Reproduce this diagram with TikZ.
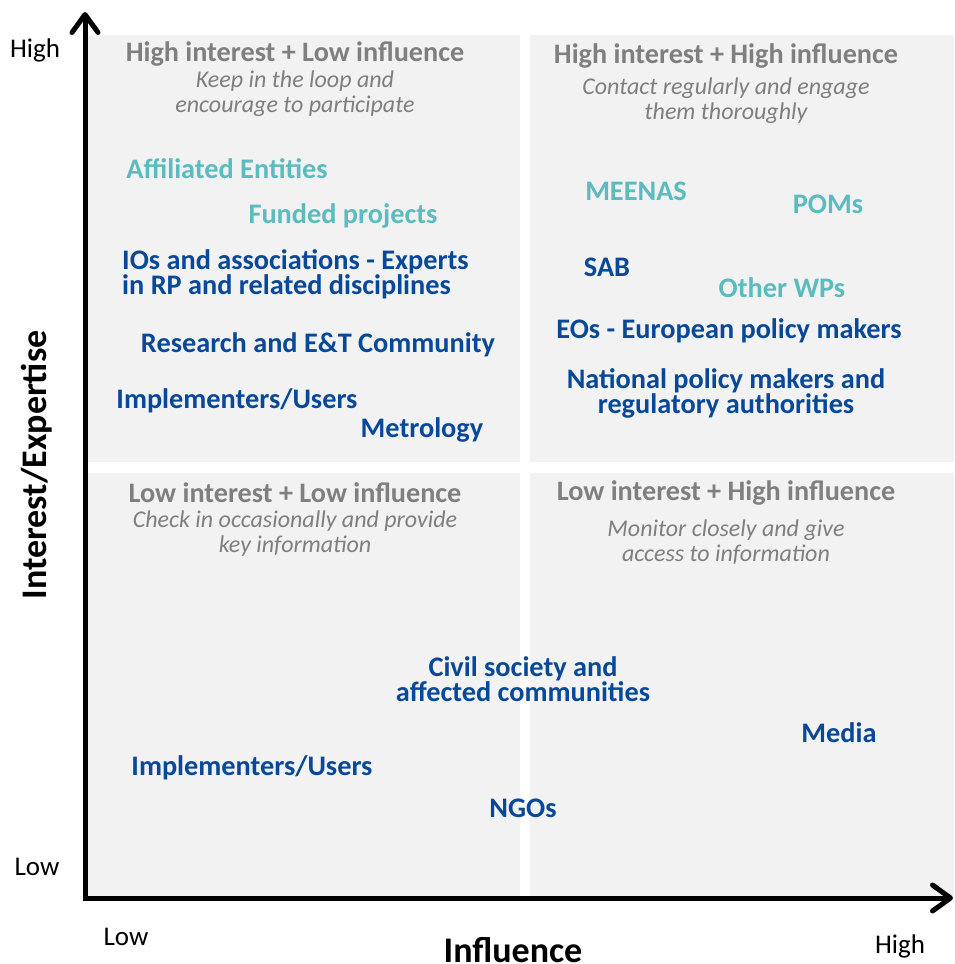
\documentclass[tikz,border=0pt]{standalone}
\usepackage{fontspec}
\setmainfont{Carlito}
\usetikzlibrary{arrows.meta}

\definecolor{quadfill}{RGB}{242,242,242}
\definecolor{headgray}{RGB}{127,127,127}
\definecolor{lightteal}{RGB}{91,188,192}
\definecolor{darkblue}{RGB}{8,72,152}

% fixed line pitch for two-line labels
\newcommand\tightlines{\lineskiplimit=-10pt\relax}

\tikzset{
  quad/.style={fill=quadfill},
  quadtitle/.style={text=headgray, inner sep=0pt, yshift=-1.5pt,
    font=\bfseries\fontsize{28.2}{25}\selectfont},
  quadnote/.style={text=headgray, inner sep=0pt, align=center, yshift=-1pt,
    font=\itshape\fontsize{24}{25}\selectfont\tightlines},
  actor/.style={inner sep=0pt, align=center, yshift=-1.5pt,
    font=\bfseries\fontsize{28.3}{25}\selectfont\tightlines},
  inner/.style={actor, text=darkblue},
  outer/.style={actor, text=lightteal},
  axis/.style={line width=5pt,
    {Straight Barb[length=18pt,width=26pt,round]}-{Straight Barb[length=18pt,width=26pt,round]}},
  ticklabel/.style={inner sep=0pt, font=\fontsize{27}{30}\selectfont},
  axislabel/.style={inner sep=0pt, font=\bfseries\fontsize{36}{40}\selectfont}
}

\begin{document}
\begin{tikzpicture}[x=1pt, y=-1pt]
    \useasboundingbox (0,0) rectangle (954,964);

    % Quadrants
    \fill[quad] (88,35)  rectangle (520,462);
    \fill[quad] (530,35) rectangle (954,462);
    \fill[quad] (88,473) rectangle (520,897);
    \fill[quad] (530,473) rectangle (954,897);

    % Upper left
    \node[quadtitle] (hl) at (295,52) {High interest + Low influence};
    \node[quadnote] (hlnote) at (295,92.5) {Keep in the loop and\\encourage to participate};
    % Upper right
    \node[quadtitle] (hh) at (726,54) {High interest + High influence};
    \node[quadnote] (hhnote) at (726,99.5) {Contact regularly and engage\\them thoroughly};
    % Lower left
    \node[quadtitle] (ll) at (295,491) {Low interest + Low influence};
    \node[quadnote] (llnote) at (295,533) {Check in occasionally and provide\\key information};
    % Lower right
    \node[quadtitle] (lh) at (726,491) {Low interest + High influence};
    \node[quadnote] (lhnote) at (726,541.5) {Monitor closely and give\\access to information};

    % Stakeholders
    \node[outer] (affil) at (227,167) {Affiliated Entities};
    \node[outer] (funded) at (343,214) {Funded projects};
    \node[inner, anchor=west, align=left] (ios) at (122,272.5) {IOs and associations - Experts\\in RP and related disciplines};
    \node[inner] (research) at (318,343) {Research and E\&T Community};
    \node[inner] (implhi) at (237,399) {Implementers/Users};
    \node[inner] (metro) at (422,428) {Metrology};

    \node[outer] (meenas) at (636,190) {MEENAS};
    \node[outer] (poms) at (828,203) {POMs};
    \node[inner] (sab) at (607,266) {SAB};
    \node[outer] (wps) at (782,286) {Other WPs};
    \node[inner] (eos) at (729,329) {EOs - European policy makers};
    \node[inner] (natl) at (726,391.5) {National policy makers and\\regulatory authorities};

    \node[inner] (civil) at (523,677.5) {Civil society and\\affected communities};
    \node[inner] (media) at (839,731) {Media};
    \node[inner] (impllo) at (252,766) {Implementers/Users};
    \node[inner] (ngos) at (523,807) {NGOs};

    % Axes
    \coordinate (origin) at (85,898);
    \coordinate (ytop) at (85,12);
    \coordinate (xend) at (953,898);
    \draw[axis] (ytop) -- (origin) -- (xend);

    \node[ticklabel] (yhigh) at (35,50) {High};
    \node[ticklabel] (ylow) at (37,867) {Low};
    \node[ticklabel] (xlow) at (126,937) {Low};
    \node[ticklabel] (xhigh) at (900,946) {High};
    \node[axislabel] (xname) at (513,950) {Influence};
    \node[axislabel, rotate=90] (yname) at (37,465) {Interest/Expertise};

\end{tikzpicture}
\end{document}
